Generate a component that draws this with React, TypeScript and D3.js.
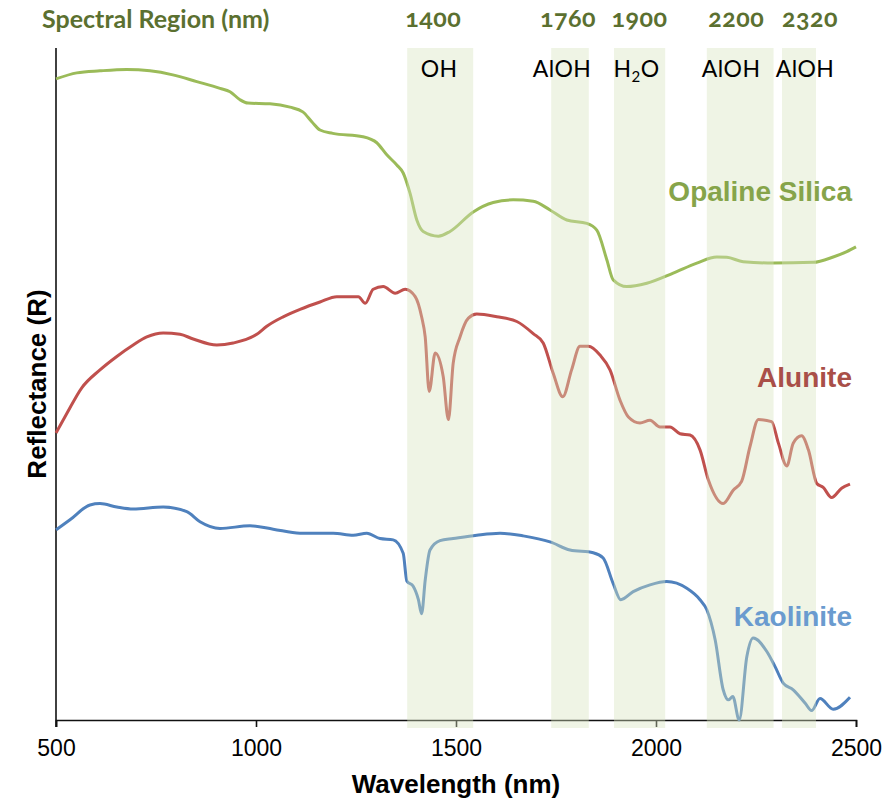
import * as d3 from 'd3';
import React, { useEffect, useRef } from 'react';

// spectra (wavelength in nm, reflectance in relative units, stacked)
const opalineNm = [500, 552, 610, 677, 735, 792, 852, 910, 935, 960, 980, 1035, 1085, 1117, 1140, 1160, 1192, 1267, 1302, 1327, 1352, 1368, 1385, 1402, 1418, 1456, 1485, 1543, 1593, 1643, 1693, 1735, 1777, 1827, 1852, 1877, 1893, 1927, 1977, 2043, 2102, 2152, 2177, 2218, 2293, 2393, 2443, 2477, 2500];
const opalineR = [95.4, 96.3, 96.6, 96.8, 96.6, 96.0, 95.0, 94.0, 93.5, 92.3, 91.8, 91.7, 91.2, 90.5, 89.0, 87.8, 87.3, 86.8, 85.9, 84.1, 82.6, 81.4, 78.4, 74.4, 72.7, 72.0, 72.7, 75.6, 77.0, 77.4, 77.2, 75.9, 74.4, 73.9, 72.9, 68.5, 65.5, 64.5, 65.0, 66.5, 68.0, 68.9, 68.85, 68.2, 68.0, 68.1, 68.9, 69.7, 70.4];

const aluniteNm = [500, 527, 564, 610, 652, 693, 727, 768, 810, 843, 902, 943, 1002, 1027, 1068, 1110, 1160, 1202, 1256, 1273, 1293, 1318, 1348, 1373, 1398, 1414, 1423, 1433, 1448, 1468, 1481, 1493, 1510, 1531, 1552, 1602, 1652, 1693, 1718, 1743, 1767, 1789, 1810, 1831, 1860, 1885, 1910, 1931, 1960, 1985, 2010, 2035, 2060, 2085, 2110, 2131, 2168, 2193, 2214, 2235, 2256, 2289, 2306, 2327, 2343, 2364, 2381, 2402, 2418, 2439, 2464, 2485];
const aluniteR = [42.7, 45.6, 49.4, 52.1, 54.1, 55.8, 57.0, 57.6, 57.4, 56.7, 55.8, 56.1, 57.4, 58.6, 60.0, 61.1, 62.2, 63.0, 63.0, 62.0, 64.1, 64.5, 63.5, 64.1, 63.0, 60.0, 57.0, 48.9, 54.6, 51.1, 44.7, 53.1, 57.0, 59.8, 60.4, 60.0, 59.3, 57.5, 56.1, 51.6, 48.1, 52.1, 55.6, 55.6, 54.3, 52.1, 47.6, 45.1, 44.2, 44.6, 43.6, 43.6, 42.6, 42.4, 40.2, 35.7, 32.2, 34.2, 35.5, 40.7, 44.7, 44.4, 41.2, 37.8, 41.2, 42.3, 40.2, 35.2, 34.6, 33.1, 34.5, 35.1];

const kaoliniteNm = [500, 535, 585, 610, 652, 693, 768, 827, 860, 910, 985, 1043, 1110, 1193, 1243, 1277, 1310, 1343, 1368, 1377, 1393, 1406, 1414, 1423, 1435, 1460, 1493, 1552, 1610, 1668, 1735, 1785, 1843, 1868, 1893, 1912, 1943, 1985, 2027, 2077, 2110, 2127, 2148, 2168, 2181, 2192, 2208, 2227, 2243, 2277, 2298, 2318, 2343, 2373, 2389, 2410, 2443, 2485];
const kaoliniteR = [28.3, 29.8, 32.0, 32.2, 31.7, 31.4, 31.7, 31.0, 29.5, 28.5, 28.9, 28.4, 27.8, 27.8, 27.5, 27.8, 27.0, 26.8, 24.8, 20.7, 19.9, 17.9, 15.8, 20.8, 25.3, 26.7, 27.0, 27.5, 27.8, 27.4, 26.5, 25.3, 24.9, 24.1, 20.3, 17.9, 19.1, 20.1, 20.6, 19.6, 17.9, 16.4, 11.9, 4.5, 3.0, 3.5, 0.0, 9.4, 12.2, 10.2, 7.9, 5.5, 4.5, 2.5, 1.4, 3.2, 1.6, 3.4];

// absorption regions
const bandStart = [1378, 1738, 1895, 2127, 2315];
const bandEnd = [1543, 1832, 2023, 2294, 2400];
const bandCentre = ['1400', '1760', '1900', '2200', '2320'];
const bandGroup = ['OH', 'AlOH', 'H2O', 'AlOH', 'AlOH'];

const xTicks = [500, 1000, 1500, 2000, 2500];

export default function App() {
  const ref = useRef<SVGSVGElement>(null);

  useEffect(() => {
    const svg = d3.select(ref.current);
    svg.selectAll('*').remove();

    const x = d3.scaleLinear().domain([500, 2500]).range([56, 856]);
    const y = d3.scaleLinear().domain([0, 100]).range([720, 48]);

    const line = d3
      .line<[number, number]>()
      .x(d => x(d[0]))
      .y(d => y(d[1]))
      .curve(d3.curveMonotoneX);

    const series = [
      { nm: opalineNm, r: opalineR, color: '#9BBB59', name: 'Opaline Silica', labelColor: '#86A44A', labelY: 201 },
      { nm: aluniteNm, r: aluniteR, color: '#C0504D', name: 'Alunite', labelColor: '#A94F48', labelY: 387 },
      { nm: kaoliniteNm, r: kaoliniteR, color: '#4F81BD', name: 'Kaolinite', labelColor: '#6A9BCF', labelY: 626 }
    ];

    // axes
    const axisX = d3.axisBottom(x).tickValues(xTicks).tickSize(7).tickFormat(d3.format('d'));
    const gx = svg.append('g').attr('transform', 'translate(0,720)').call(axisX);
    gx.select('.domain').attr('stroke', '#111').attr('stroke-width', 1.6);
    gx.selectAll('.tick line').attr('stroke', '#111').attr('stroke-width', 1.6);
    gx.selectAll('.tick text')
      .attr('y', 20)
      .attr('font-family', 'Liberation Sans, Arial, sans-serif')
      .attr('font-size', 23)
      .attr('fill', '#000');

    svg.append('line')
      .attr('x1', x(500)).attr('x2', x(500))
      .attr('y1', y(100)).attr('y2', 727)
      .attr('stroke', '#111').attr('stroke-width', 1.6);

    // spectra
    series.forEach(s => {
      const pts = s.nm.map((n, i) => [n, s.r[i]] as [number, number]);
      svg.append('path')
        .attr('d', line(pts))
        .attr('fill', 'none')
        .attr('stroke', s.color)
        .attr('stroke-width', 3)
        .attr('stroke-linejoin', 'round');
    });

    // shaded regions drawn over the lines
    svg.append('g')
      .selectAll('rect')
      .data(bandStart)
      .enter()
      .append('rect')
      .attr('x', (d, i) => x(d))
      .attr('width', (d, i) => x(bandEnd[i]) - x(d))
      .attr('y', 48)
      .attr('height', 680)
      .attr('fill', '#D7E4BD')
      .attr('opacity', 0.4);

    // region labels
    const shift = [-7, -2, 0, -4, 11];
    const groupShift = [-1, -8, -3, -9, 6];
    const mid = (i: number) => (x(bandStart[i]) + x(bandEnd[i])) / 2;

    bandCentre.forEach((c, i) => {
      svg.append('text')
        .attr('x', mid(i) + shift[i])
        .attr('y', 27)
        .attr('text-anchor', 'middle')
        .attr('font-family', 'Lato, sans-serif')
        .attr('font-weight', 700)
        .attr('font-size', 25)
        .attr('letter-spacing', 0.5)
        .style('font-feature-settings', '"onum"')
        .attr('fill', '#5B7030')
        .text(c);
    });

    bandGroup.forEach((g, i) => {
      const t = svg.append('text')
        .attr('x', mid(i) + groupShift[i])
        .attr('y', 77)
        .attr('text-anchor', 'middle')
        .attr('font-family', 'Lato, sans-serif')
        .attr('font-size', 23)
        .attr('letter-spacing', 0.5)
        .attr('fill', '#000');
      if (g === 'H2O') {
        t.append('tspan').text('H');
        t.append('tspan').attr('font-size', 15).attr('dy', 5).text('2');
        t.append('tspan').attr('dy', -5).text('O');
      } else {
        t.text(g);
      }
    });

    svg.append('text')
      .attr('x', 42)
      .attr('y', 28)
      .attr('font-family', 'Lato, sans-serif')
      .attr('font-weight', 700)
      .attr('font-size', 25)
      .attr('fill', '#5B7030')
      .text('Spectral Region (nm)');

    // series names
    series.forEach(s => {
      svg.append('text')
        .attr('x', 852)
        .attr('y', s.labelY)
        .attr('text-anchor', 'end')
        .attr('font-family', 'Liberation Sans, Arial, sans-serif')
        .attr('font-weight', 700)
        .attr('font-size', 28)
        .attr('fill', s.labelColor)
        .text(s.name);
    });

    // axis titles
    svg.append('text')
      .attr('x', 456)
      .attr('y', 793)
      .attr('text-anchor', 'middle')
      .attr('font-family', 'Liberation Sans, Arial, sans-serif')
      .attr('font-weight', 700)
      .attr('font-size', 26)
      .text('Wavelength (nm)');

    svg.append('text')
      .attr('transform', 'translate(46,384) rotate(-90)')
      .attr('text-anchor', 'middle')
      .attr('font-family', 'Liberation Sans, Arial, sans-serif')
      .attr('font-weight', 700)
      .attr('font-size', 26)
      .text('Reflectance (R)');
  }, []);

  return (
    <div style={{ position: 'absolute', left: 0, top: 0 }}>
      <svg ref={ref} width={894} height={801} style={{ display: 'block', background: '#fff' }} />
    </div>
  );
}
